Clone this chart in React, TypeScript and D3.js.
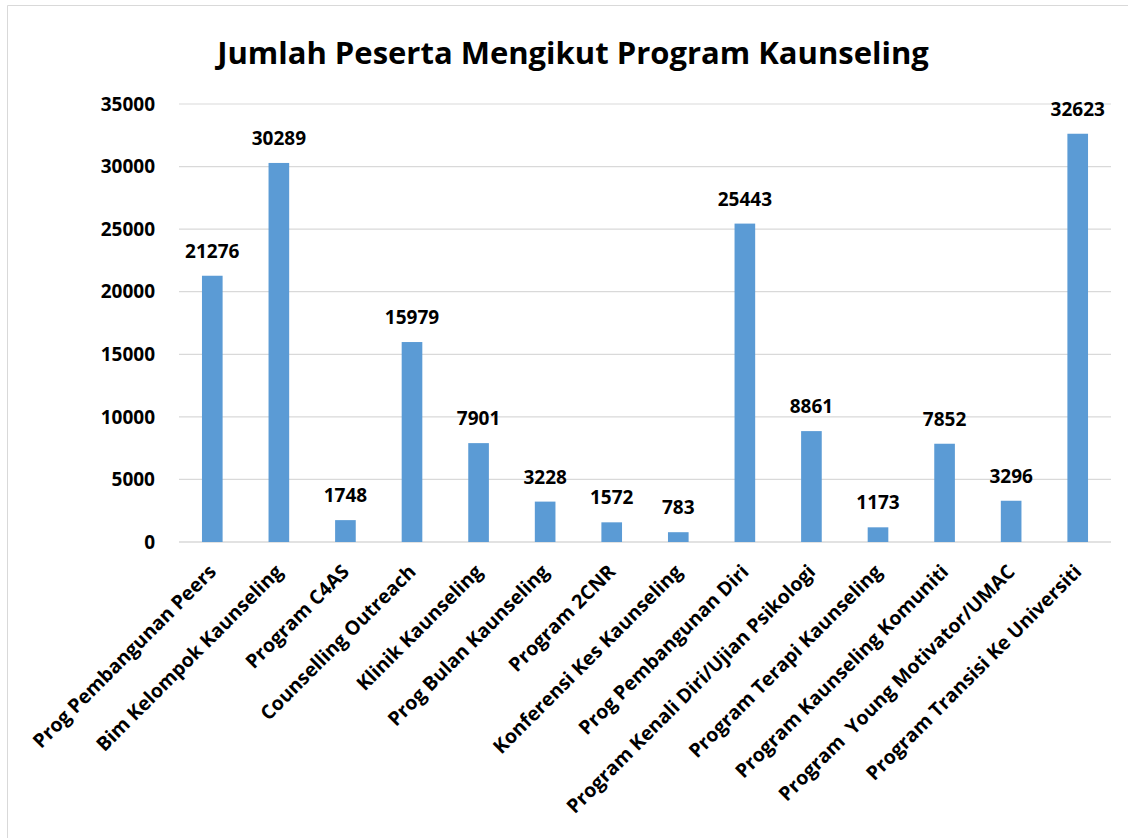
import { useMemo } from 'react';
import * as d3 from 'd3';

const programs = [
  'Prog Pembangunan Peers',
  'Bim Kelompok Kaunseling',
  'Program C4AS',
  'Counselling Outreach',
  'Klinik Kaunseling',
  'Prog Bulan Kaunseling',
  'Program 2CNR',
  'Konferensi Kes Kaunseling',
  'Prog Pembangunan Diri',
  'Program Kenali Diri/Ujian Psikologi',
  'Program Terapi Kaunseling',
  'Program Kaunseling Komuniti',
  'Program  Young Motivator/UMAC',
  'Program Transisi Ke Universiti',
];

const participants = [
  21276, 30289, 1748, 15979, 7901, 3228, 1572, 783, 25443, 8861, 1173, 7852,
  3296, 32623,
];

const yTicks = [0, 5000, 10000, 15000, 20000, 25000, 30000, 35000];

const title = 'Jumlah Peserta Mengikut Program Kaunseling';

export default function App() {
  const width = 1128;
  const height = 838;
  const font = '"Open Sans", sans-serif';

  const x = useMemo(
    () => d3.scaleBand().domain(programs).range([179, 1111]).paddingInner(0.69).paddingOuter(0.345),
    []
  );
  const y = useMemo(() => d3.scaleLinear().domain([0, 35000]).range([542, 104]), []);

  return (
    <svg
      width={width}
      height={height}
      style={{ position: 'absolute', left: 0, top: 0, background: '#fff' }}
      fontFamily={font}
    >
      {/* frame of the chart area (only top and left visible) */}
      <line x1={7.5} x2={width} y1={5.5} y2={5.5} stroke="#d9d9d9" />
      <line x1={7.5} x2={7.5} y1={5.5} y2={height} stroke="#d9d9d9" />

      <text x={573} y={64} textAnchor="middle" fontSize={31} fontWeight={700} fill="#000">
        {title}
      </text>

      {yTicks.map((t) => (
        <g key={t}>
          <line x1={179} x2={1111} y1={y(t)} y2={y(t)} stroke="#d9d9d9" strokeWidth={t === 0 ? 1.5 : 1.2} />
          <text x={155} y={y(t)} dy="0.35em" textAnchor="end" fontSize={19} fontWeight={700} fill="#000">
            {t}
          </text>
        </g>
      ))}

      {programs.map((p, i) => {
        const v = participants[i];
        const cx = x(p)! + x.bandwidth() / 2;
        return (
          <g key={p}>
            <rect x={x(p)} y={y(v)} width={x.bandwidth()} height={y(0) - y(v)} fill="#5b9bd5" />
            <text x={cx} y={y(v) - 18} textAnchor="middle" fontSize={19} fontWeight={700} fill="#000">
              {v}
            </text>
            <text
              transform={`translate(${cx + 5},${y(0) + 31}) rotate(-45)`}
              textAnchor="end"
              fontSize={19.5}
              fontWeight={700}
              fill="#000"
              style={{ whiteSpace: 'pre' }}
            >
              {p}
            </text>
          </g>
        );
      })}
    </svg>
  );
}
